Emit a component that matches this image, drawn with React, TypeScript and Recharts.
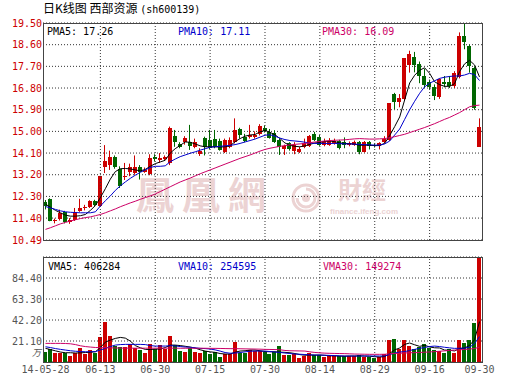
import React from "react";
import {
  ComposedChart,
  Bar,
  Line,
  XAxis,
  YAxis,
  CartesianGrid,
  ReferenceLine,
  Cell,
} from "recharts";

// trading days shown on the chart
const dates = [
  "2014-05-28", "2014-05-29", "2014-05-30",
  "2014-06-03", "2014-06-04", "2014-06-05", "2014-06-06", "2014-06-09", "2014-06-10", "2014-06-11", "2014-06-12", "2014-06-13",
  "2014-06-16", "2014-06-17", "2014-06-18", "2014-06-19", "2014-06-20", "2014-06-23", "2014-06-24", "2014-06-25", "2014-06-26", "2014-06-27", "2014-06-30",
  "2014-07-01", "2014-07-02", "2014-07-03", "2014-07-04", "2014-07-07", "2014-07-08", "2014-07-09", "2014-07-10", "2014-07-11", "2014-07-14", "2014-07-15",
  "2014-07-16", "2014-07-17", "2014-07-18", "2014-07-21", "2014-07-22", "2014-07-23", "2014-07-24", "2014-07-25", "2014-07-28", "2014-07-29", "2014-07-30",
  "2014-07-31", "2014-08-01", "2014-08-04", "2014-08-05", "2014-08-06", "2014-08-07", "2014-08-08", "2014-08-11", "2014-08-12", "2014-08-13", "2014-08-14",
  "2014-08-15", "2014-08-18", "2014-08-19", "2014-08-20", "2014-08-21", "2014-08-22", "2014-08-25", "2014-08-26", "2014-08-27", "2014-08-28", "2014-08-29",
  "2014-09-01", "2014-09-02", "2014-09-03", "2014-09-04", "2014-09-05", "2014-09-09", "2014-09-10", "2014-09-11", "2014-09-12", "2014-09-15", "2014-09-16",
  "2014-09-17", "2014-09-18", "2014-09-19", "2014-09-22", "2014-09-23", "2014-09-24", "2014-09-25", "2014-09-26", "2014-09-29", "2014-09-30",
];

const opens = [
  12.07, 12.18, 11.26, 11.35, 11.64, 11.24, 11.32, 11.7, 11.8, 11.86,
  12.12, 11.92, 13.53, 13.6, 13.92, 13.43, 13.09, 13.3, 13.26, 13.53,
  13.33, 13.23, 13.95, 13.8, 13.85, 13.67, 14.82, 14.46, 14.55, 14.57,
  14.37, 14.08, 14.71, 14.64, 14.68, 14.6, 14.16, 14.36, 14.57, 15.1,
  14.78, 14.76, 14.78, 14.88, 15.15, 14.99, 14.95, 14.64, 14.25, 14.5,
  14.18, 14.16, 14.36, 14.4, 14.88, 14.78, 14.43, 14.45, 14.5, 14.6,
  14.55, 14.42, 14.45, 14.55, 14.15, 14.55, 14.45, 14.38, 14.55, 14.65,
  16.55, 16.23, 16.34, 17.75, 18.08, 17.8, 17.3, 17.06, 16.83, 16.42,
  17.06, 17.06, 16.88, 17.24, 18.97, 18.55, 17.65, 14.36,
];
const highs = [
  12.15, 12.22, 11.38, 11.75, 11.7, 11.4, 11.82, 12.2, 11.95, 12.14,
  12.16, 13.15, 14.43, 14.2, 14.0, 13.55, 13.69, 13.66, 14.0, 13.6,
  13.5, 14.05, 14.05, 14.1, 14.0, 15.2, 15.06, 14.55, 14.8, 15.27,
  14.7, 14.3, 14.78, 15.06, 15.06, 14.7, 14.7, 14.75, 15.54, 15.15,
  14.9, 15.27, 15.0, 15.3, 15.25, 15.1, 15.05, 14.7, 14.45, 14.55,
  14.55, 14.35, 14.7, 14.85, 14.98, 14.85, 14.7, 14.72, 14.7, 14.65,
  14.75, 14.58, 14.62, 14.6, 14.6, 14.6, 14.5, 14.55, 14.8, 16.17,
  16.6, 16.55, 18.04, 18.35, 18.3, 17.9, 17.6, 17.15, 16.95, 17.2,
  17.3, 17.3, 17.5, 19.11, 19.5, 18.6, 17.7, 15.54,
];
const lows = [
  11.76, 11.27, 11.18, 11.3, 11.18, 11.16, 11.28, 11.66, 11.72, 11.82,
  11.9, 11.88, 13.27, 13.4, 13.45, 12.65, 12.98, 13.14, 13.2, 13.0,
  13.28, 13.18, 13.75, 13.7, 13.78, 13.6, 14.36, 14.3, 14.45, 14.23,
  14.3, 13.98, 14.0, 14.25, 14.3, 14.2, 14.1, 14.3, 14.5, 14.7,
  14.55, 14.7, 14.7, 14.83, 14.95, 14.7, 14.52, 14.02, 14.02, 14.2,
  14.05, 14.1, 14.3, 14.35, 14.6, 14.4, 14.38, 14.4, 14.45, 14.25,
  14.3, 14.38, 14.4, 14.05, 14.12, 14.25, 14.33, 14.25, 14.5, 14.6,
  15.92, 16.0, 16.3, 17.44, 17.45, 17.0, 16.8, 16.75, 16.3, 16.35,
  16.83, 16.8, 16.8, 17.2, 18.41, 17.44, 15.9, 14.36,
];
const closes = [
  11.9, 11.29, 11.33, 11.6, 11.25, 11.32, 11.66, 11.82, 11.88, 12.1,
  11.94, 13.13, 13.77, 13.95, 13.51, 12.72, 13.16, 13.53, 13.53, 13.33,
  13.4, 13.88, 13.85, 13.91, 13.93, 15.13, 14.55, 14.37, 14.71, 14.38,
  14.55, 14.2, 14.36, 14.3, 14.36, 14.23, 14.64, 14.64, 15.06, 14.85,
  14.6, 14.86, 14.85, 15.24, 15.0, 14.74, 14.57, 14.36, 14.4, 14.27,
  14.43, 14.28, 14.5, 14.82, 14.65, 14.45, 14.62, 14.62, 14.62, 14.3,
  14.45, 14.52, 14.55, 14.15, 14.55, 14.4, 14.38, 14.5, 14.7, 16.17,
  16.23, 16.4, 18.04, 18.21, 17.76, 17.28, 16.93, 16.85, 16.47, 17.16,
  16.95, 16.9, 17.44, 18.97, 18.72, 17.73, 15.96, 15.17,
];

// price moving averages
const pma5 = [
  11.98, 11.85, 11.72, 11.62, 11.52, 11.48, 11.48, 11.5, 11.55, 11.72,
  11.92, 12.25, 12.62, 13.02, 13.33, 13.45, 13.46, 13.44, 13.4, 13.36,
  13.42, 13.55, 13.66, 13.73, 13.8, 14.1, 14.28, 14.42, 14.56, 14.55,
  14.48, 14.4, 14.36, 14.36, 14.36, 14.35, 14.36, 14.4, 14.57, 14.7,
  14.8, 14.85, 14.87, 14.98, 15.04, 14.96, 14.86, 14.7, 14.52, 14.42,
  14.38, 14.36, 14.4, 14.46, 14.52, 14.54, 14.58, 14.6, 14.57, 14.52,
  14.5, 14.49, 14.47, 14.42, 14.43, 14.42, 14.41, 14.41, 14.51, 14.83,
  15.2, 15.6, 16.31, 17.01, 17.33, 17.54, 17.64, 17.41, 17.06, 16.94,
  16.87, 16.87, 16.98, 17.48, 17.8, 17.95, 17.76, 17.26,
];
const pma10 = [
  11.88, 11.82, 11.76, 11.7, 11.66, 11.64, 11.63, 11.62, 11.62, 11.62,
  11.66, 11.9, 12.12, 12.32, 12.55, 12.74, 12.9, 13.05, 13.18, 13.3,
  13.4, 13.5, 13.55, 13.55, 13.57, 13.74, 13.85, 13.95, 14.02, 14.09,
  14.15, 14.22, 14.28, 14.34, 14.36, 14.38, 14.4, 14.42, 14.45, 14.5,
  14.56, 14.62, 14.68, 14.76, 14.84, 14.86, 14.8, 14.72, 14.66, 14.62,
  14.6, 14.58, 14.55, 14.52, 14.5, 14.5, 14.5, 14.5, 14.5, 14.49,
  14.48, 14.48, 14.47, 14.46, 14.45, 14.44, 14.43, 14.43, 14.48, 14.6,
  14.85, 15.1, 15.5, 15.9, 16.25, 16.58, 16.85, 17.0, 17.1, 17.2,
  17.25, 17.28, 17.3, 17.3, 17.34, 17.41, 17.36, 17.11,
];
const pma30 = [
  10.93, 11.0, 11.08, 11.16, 11.22, 11.28, 11.33, 11.38, 11.42, 11.45,
  11.5, 11.55, 11.62, 11.7, 11.78, 11.87, 11.95, 12.03, 12.1, 12.18,
  12.25, 12.32, 12.4, 12.5, 12.6, 12.7, 12.8, 12.9, 12.98, 13.06,
  13.15, 13.24, 13.32, 13.4, 13.48, 13.56, 13.64, 13.72, 13.8, 13.88,
  13.95, 14.02, 14.1, 14.18, 14.25, 14.3, 14.34, 14.38, 14.41, 14.44,
  14.46, 14.48, 14.5, 14.53, 14.56, 14.58, 14.6, 14.62, 14.63, 14.64,
  14.65, 14.67, 14.69, 14.7, 14.69, 14.68, 14.68, 14.69, 14.7, 14.74,
  14.78, 14.83, 14.88, 14.95, 15.02, 15.09, 15.16, 15.24, 15.32, 15.41,
  15.5, 15.58, 15.68, 15.78, 15.9, 16.02, 16.07, 16.09,
];

// volume in units of 10k lots (万)
const volumes = [
  10.3, 13, 9.3, 9.3, 9.3, 6.3, 9.3, 14.3, 7.7, 12,
  9.3, 25.3, 40.3, 26.3, 16.3, 15.3, 15.3, 17.7, 13.7, 12,
  9.3, 17.7, 13, 17, 12.7, 26.3, 16.7, 11.3, 10.3, 13.7,
  10, 9.3, 11, 7.7, 9.7, 5.3, 7.7, 7.7, 20.3, 8.7,
  8.7, 12, 11, 11, 10.3, 7.7, 10.3, 16, 7, 7,
  7.7, 4.3, 6, 9.3, 7, 7, 5, 7, 6, 6,
  6, 6, 6, 7, 5, 5, 4.3, 5, 7.7, 22,
  23, 12.7, 22, 16, 12.7, 15.3, 18, 13.7, 12, 11,
  9.3, 13, 9.3, 22, 18.7, 22, 39.3, 105.5,
];
const vma5 = [
  13.7, 12.5, 11.2, 10.0, 9.3, 9.3, 9.0, 9.2, 9.5, 9.8,
  10.3, 14.5, 20.0, 22.0, 23.7, 24.7, 24.0, 21.0, 16.5, 14.3,
  12.7, 12.5, 13.0, 13.0, 14.5, 17.0, 17.0, 16.5, 15.8, 15.0,
  14.0, 12.3, 11.0, 10.2, 9.7, 8.5, 8.0, 8.0, 9.8, 11.0,
  11.3, 12.0, 12.0, 11.3, 10.5, 10.3, 10.3, 9.9, 9.7, 9.3,
  8.5, 7.4, 6.8, 7.0, 6.9, 7.0, 6.7, 6.2, 6.2, 5.9,
  5.8, 6.0, 6.0, 6.2, 6.0, 5.8, 5.3, 5.0, 5.5, 8.6,
  12.2, 14.1, 17.7, 19.1, 17.3, 15.7, 16.8, 15.1, 14.3, 14.1,
  12.0, 11.8, 11.1, 13.5, 14.0, 16.7, 22.3, 40.6,
];
const vma10 = [
  15.3, 14.5, 13.5, 12.7, 12.0, 11.3, 10.8, 10.5, 10.3, 10.3,
  10.4, 12.0, 13.7, 15.5, 17.0, 17.5, 17.7, 17.7, 17.7, 17.7,
  17.5, 16.5, 16.0, 16.0, 16.0, 16.3, 16.2, 15.5, 15.0, 14.8,
  14.3, 13.7, 13.5, 13.0, 12.2, 11.0, 9.5, 8.8, 9.0, 9.5,
  10.2, 10.8, 11.0, 11.0, 11.0, 10.5, 10.0, 9.6, 9.0, 8.5,
  8.0, 7.8, 7.5, 7.2, 7.0, 7.0, 6.8, 6.6, 6.4, 6.2,
  6.0, 6.0, 6.0, 6.0, 6.0, 6.0, 6.0, 6.0, 6.0, 7.5,
  9.0, 10.0, 10.5, 11.5, 12.7, 13.7, 14.6, 15.5, 16.0, 15.5,
  14.8, 14.2, 13.7, 13.8, 13.9, 14.8, 18.5, 25.5,
];
const vma30 = [
  18.7, 18.7, 18.7, 18.7, 18.6, 18.3, 17.5, 16.3, 15.5, 15.0,
  14.6, 14.4, 14.3, 14.2, 14.1, 14.0, 14.0, 13.9, 13.9, 13.9,
  13.9, 13.9, 13.9, 13.9, 13.9, 13.9, 13.9, 13.8, 13.8, 13.8,
  13.8, 13.8, 13.8, 13.7, 13.7, 13.6, 13.5, 13.4, 13.4, 13.3,
  13.2, 13.1, 13.0, 12.9, 12.7, 12.6, 12.5, 12.3, 11.6, 11.3,
  11.2, 11.1, 11.0, 10.2, 9.6, 9.2, 8.9, 8.7, 8.6, 8.5,
  8.4, 8.2, 8.0, 7.9, 7.8, 7.7, 7.7, 7.7, 7.8, 8.2,
  8.6, 8.8, 9.1, 9.3, 9.4, 9.6, 9.8, 10.1, 10.4, 10.8,
  11.2, 11.6, 12.0, 12.3, 12.6, 12.9, 13.6, 14.9,
];

const priceTicks = [10.49, 11.4, 12.3, 13.2, 14.1, 15.0, 15.9, 16.8, 17.7, 18.6, 19.5];
const volTicks = [21.1, 42.2, 63.3, 84.4];
const labelDates = [
  "2014-05-28", "2014-06-13", "2014-06-30", "2014-07-15", "2014-07-30",
  "2014-08-14", "2014-08-29", "2014-09-16", "2014-09-30",
];
const gridDates = [
  "2014-06-13", "2014-06-30", "2014-07-15", "2014-07-30",
  "2014-08-14", "2014-08-29", "2014-09-16",
];

const RED = "#cc0000";
const GREEN = "#006600";
const BLUE = "#0000cc";
const PINK = "#cc0066";
const MONO = "'DejaVu Sans Mono', monospace";
const WM = "#ecd3d3";

const rows = dates.map((date, i) => ({
  date,
  open: opens[i],
  high: highs[i],
  low: lows[i],
  close: closes[i],
  range: [lows[i], highs[i]],
  ma5: pma5[i],
  ma10: pma10[i],
  ma30: pma30[i],
  vol: volumes[i],
  vma5: vma5[i],
  vma10: vma10[i],
  vma30: vma30[i],
  up: closes[i] >= opens[i],
}));

function Candle(props: any) {
  const { x, y, width, height, index } = props;
  const d = props.payload ?? rows[index];
  const color = d.close >= d.open ? RED : GREEN;
  const k = d.high > d.low ? height / (d.high - d.low) : 0;
  const yOpen = y + (d.high - d.open) * k;
  const yClose = y + (d.high - d.close) * k;
  const top = Math.min(yOpen, yClose);
  const bodyH = Math.max(1, Math.abs(yOpen - yClose));
  const cx = Math.floor(x + width / 2) + 0.5;
  return (
    <g>
      <line x1={cx} x2={cx} y1={y} y2={y + height} stroke={color} strokeWidth={1} />
      <rect
        x={Math.round(x)}
        y={top}
        width={Math.round(width)}
        height={bodyH}
        fill={color}
        shapeRendering="crispEdges"
      />
    </g>
  );
}

const fmtDate = (v: string) => (v === dates[0] ? v.slice(2) : v.slice(5));

const legend = (left: number, top: number, color: string, text: string) => (
  <div
    style={{
      position: "absolute",
      left,
      top,
      fontFamily: MONO,
      fontSize: 10,
      lineHeight: "12px",
      color,
      whiteSpace: "pre",
    }}
  >
    {text}
  </div>
);

export default function App() {
  return (
    <div
      style={{
        position: "absolute",
        left: 0,
        top: 0,
        width: 530,
        height: 391,
        background: "#fff",
        overflow: "hidden",
      }}
    >
      {/* title */}
      <div
        style={{
          position: "absolute",
          left: 43,
          top: 1,
          fontSize: 12,
          lineHeight: "14px",
          color: "#000",
          whiteSpace: "pre",
        }}
      >
        <span style={{ fontFamily: "'Noto Sans CJK SC'" }}>日K线图 西部资源 </span>
        <span style={{ fontFamily: MONO, fontSize: 10 }}>(sh600139)</span>
      </div>

      {/* watermark */}
      <div
        style={{
          position: "absolute",
          left: 136,
          top: 170,
          fontFamily: "'Noto Sans CJK TC'",
          fontWeight: 700,
          fontSize: 38,
          lineHeight: "46px",
          letterSpacing: 8,
          color: WM,
          whiteSpace: "pre",
        }}
      >
        鳳凰網
      </div>
      <svg style={{ position: "absolute", left: 290, top: 182 }} width={32} height={32}>
        <circle cx={16} cy={16} r={13} fill="none" stroke={WM} strokeWidth={3} />
        <path d="M16 7 A9 9 0 1 1 7 16" fill="none" stroke={WM} strokeWidth={3} />
        <circle cx={16} cy={16} r={4} fill={WM} />
      </svg>
      <div
        style={{
          position: "absolute",
          left: 338,
          top: 176,
          fontFamily: "'Noto Sans CJK TC'",
          fontWeight: 700,
          fontSize: 24,
          lineHeight: "26px",
          color: WM,
          whiteSpace: "pre",
        }}
      >
        財經
      </div>
      <div
        style={{
          position: "absolute",
          left: 330,
          top: 207,
          fontFamily: "'Liberation Sans'",
          fontWeight: 700,
          fontSize: 8,
          lineHeight: "9px",
          color: WM,
          whiteSpace: "pre",
        }}
      >
        finance.ifeng.com
      </div>

      {/* price panel */}
      <div style={{ position: "absolute", left: 0, top: 0 }}>
        <ComposedChart
          width={530}
          height={245}
          data={rows}
          margin={{ top: 23, right: 48, bottom: 5, left: 0 }}
          barCategoryGap={1}
        >
          <CartesianGrid vertical={false} stroke="#333" strokeDasharray="1 2" />
          <XAxis dataKey="date" hide />
          <YAxis
            domain={[10.49, 19.5]}
            ticks={priceTicks}
            interval={0}
            width={43}
            tickLine={false}
            axisLine={false}
            tickSize={0}
            tickMargin={1}
            tick={{ fill: RED, fontSize: 10, fontFamily: MONO }}
            tickFormatter={(v: number) => v.toFixed(2)}
          />
          {gridDates.map((d) => (
            <ReferenceLine key={d} x={d} stroke="#333" strokeDasharray="1 2" />
          ))}
          <Bar dataKey="range" barSize={4} shape={<Candle />} isAnimationActive={false} />
          <Line type="linear" dataKey="ma5" stroke="#000" strokeWidth={1} dot={false} isAnimationActive={false} />
          <Line type="linear" dataKey="ma10" stroke={BLUE} strokeWidth={1} dot={false} isAnimationActive={false} />
          <Line type="linear" dataKey="ma30" stroke={PINK} strokeWidth={1} dot={false} isAnimationActive={false} />
        </ComposedChart>
      </div>

      {/* volume panel */}
      <div style={{ position: "absolute", left: 0, top: 250 }}>
        <ComposedChart
          width={530}
          height={140}
          data={rows}
          margin={{ top: 7, right: 48, bottom: 0, left: 0 }}
          barCategoryGap={1}
        >
          <CartesianGrid vertical={false} stroke="#333" strokeDasharray="1 2" />
          <XAxis
            dataKey="date"
            ticks={labelDates}
            interval={0}
            height={28}
            tickLine={false}
            axisLine={false}
            tickSize={0}
            tickMargin={4}
            tick={{ fill: "#555", fontSize: 10, fontFamily: MONO }}
            tickFormatter={fmtDate}
          />
          <YAxis
            domain={[0, 105.5]}
            ticks={volTicks}
            interval={0}
            width={43}
            tickLine={false}
            axisLine={false}
            tickSize={0}
            tickMargin={1}
            tick={{ fill: "#555", fontSize: 10, fontFamily: MONO }}
            tickFormatter={(v: number) => v.toFixed(2)}
          />
          {gridDates.map((d) => (
            <ReferenceLine key={d} x={d} stroke="#333" strokeDasharray="1 2" />
          ))}
          <Bar dataKey="vol" barSize={4} isAnimationActive={false}>
            {rows.map((r, i) => (
              <Cell key={i} fill={r.up ? RED : GREEN} shapeRendering="crispEdges" />
            ))}
          </Bar>
          <Line type="linear" dataKey="vma5" stroke="#000" strokeWidth={1} dot={false} isAnimationActive={false} />
          <Line type="linear" dataKey="vma10" stroke={BLUE} strokeWidth={1} dot={false} isAnimationActive={false} />
          <Line type="linear" dataKey="vma30" stroke={PINK} strokeWidth={1} dot={false} isAnimationActive={false} />
        </ComposedChart>
      </div>

      {/* unit label for volume axis */}
      <div
        style={{
          position: "absolute",
          left: 32,
          top: 347,
          fontFamily: "'Noto Sans CJK SC'",
          fontSize: 9,
          lineHeight: "12px",
          color: "#555",
          fontStyle: "italic",
        }}
      >
        万
      </div>

      {/* panel frames */}
      <div
        style={{
          position: "absolute",
          left: 43,
          top: 23,
          width: 440,
          height: 218,
          border: "1px solid #444",
          boxSizing: "border-box",
          pointerEvents: "none",
        }}
      />
      <div
        style={{
          position: "absolute",
          left: 43,
          top: 257,
          width: 440,
          height: 106,
          border: "1px solid #444",
          boxSizing: "border-box",
          pointerEvents: "none",
        }}
      />

      {/* legends */}
      {legend(47, 26, "#000", "PMA5: 17.26")}
      {legend(178, 26, BLUE, "PMA10: 17.11")}
      {legend(322, 26, PINK, "PMA30: 16.09")}
      {legend(48, 261, "#000", "VMA5: 406284")}
      {legend(178, 261, BLUE, "VMA10: 254595")}
      {legend(323, 261, PINK, "VMA30: 149274")}
    </div>
  );
}
